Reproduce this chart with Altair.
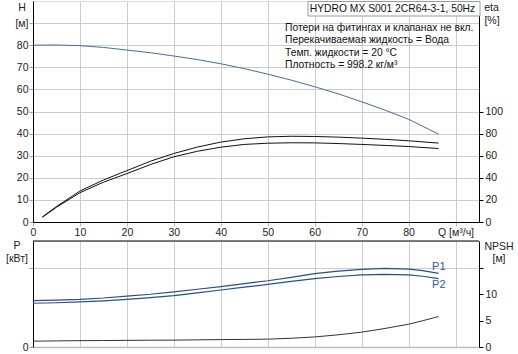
import altair as alt
import pandas as pd

# ---------------- data ----------------
q_h = [0, 5, 10, 15, 20, 25, 30, 35, 40, 45, 50, 55, 60, 65, 70, 75, 80, 86.4]
h_vals = [80, 80.1, 79.8, 79, 77.8, 76.6, 75.1, 73.5, 71.6, 69.4, 66.9, 64.2, 61.2, 58, 54.4, 50.6, 46.5, 39.7]

q_eta = [2, 5, 10, 15, 20, 25, 30, 35, 40, 45, 50, 55, 60, 65, 70, 75, 80, 86.4]
eta_1 = [4.6, 14, 28, 38, 46.5, 55, 62, 67.8, 72.3, 75.3, 77, 77.6, 77.4, 76.8, 75.9, 74.8, 73.5, 71.4]
eta_2 = [4.3, 13.3, 26.5, 36, 43.8, 52, 59, 64, 67.7, 70.2, 71.3, 71.7, 71.6, 71, 70.2, 69.3, 68.3, 66.5]

q_p = [0, 5, 10, 15, 20, 25, 30, 35, 40, 45, 50, 55, 60, 65, 70, 75, 80, 83, 86.4]
p_1 = [8.75, 8.85, 9.0, 9.25, 9.6, 9.95, 10.4, 10.9, 11.4, 11.95, 12.5, 13.15, 13.85, 14.3, 14.65, 14.85, 14.7, 14.4, 13.9]
p_2 = [8.25, 8.35, 8.5, 8.72, 9.0, 9.33, 9.7, 10.2, 10.75, 11.28, 11.8, 12.38, 12.9, 13.3, 13.6, 13.7, 13.6, 13.35, 12.9]
npsh = [1.1, 1.15, 1.2, 1.22, 1.25, 1.28, 1.3, 1.35, 1.4, 1.43, 1.48, 1.65, 1.9, 2.3, 2.8, 3.5, 4.3, 4.95, 5.75]

p_labels = ["P1", "P2"]
p_label_q = [85, 85]
p_label_v = [15.1, 11.7]

title_text = "HYDRO MX S001 2CR64-3-1, 50Hz"
info_lines = [
    "Потери на фитингах и клапанах не вкл.",
    "Перекачиваемая жидкость = Вода",
    "Темп. жидкости = 20 °C",
    "Плотность = 998.2 кг/м³",
]

# ---------------- layout / style ----------------
FONT = "Liberation Sans"
W = 446
H_TOP = 221
H_BOT = 106
XDOM = [0, 95]
GRID = "#cccccc"
LBL = "#222222"
FS = 10.5
H_COLOR = "#4a6a9c"
P_COLOR = "#2a4f82"
ETA_COLOR = "#111111"
NPSH_COLOR = "#333333"

df_h = pd.DataFrame({"Q": q_h, "H": h_vals})
df_eta = pd.DataFrame({
    "Q": q_eta + q_eta,
    "eta": eta_1 + eta_2,
    "curve": ["eta1"] * len(q_eta) + ["eta2"] * len(q_eta),
})
df_p = pd.DataFrame({
    "Q": q_p + q_p,
    "P": p_1 + p_2,
    "curve": ["P1"] * len(q_p) + ["P2"] * len(q_p),
})
df_npsh = pd.DataFrame({"Q": q_p, "NPSH": npsh})
df_plab = pd.DataFrame({"Q": p_label_q, "P": p_label_v, "t": p_labels})

one = alt.InlineData(values=[{}])


def txt(s, x, y, align="center", size=FS, color=LBL, baseline="middle"):
    return alt.Chart(one).mark_text(
        text=s, align=align, baseline=baseline, font=FONT, fontSize=size, color=color
    ).encode(x=alt.value(x), y=alt.value(y))


lab_common = dict(labelFont=FONT, labelFontSize=FS, labelColor=LBL, title=None,
                  labelOverlap=False, labelFlush=False)

# ---------------- top panel ----------------
x_top = alt.X(
    "Q:Q",
    scale=alt.Scale(domain=XDOM, nice=False, zero=False),
    axis=alt.Axis(
        values=list(range(0, 100, 10)),
        labelExpr="datum.value == 90 ? 'Q [м³/ч]' : datum.label",
        grid=True, gridColor=GRID, gridWidth=1,
        domainColor="#000000", domainWidth=1,
        tickColor="#b0b0b0", tickSize=4, labelPadding=1,
        **lab_common,
    ),
)

h_line = alt.Chart(df_h).mark_line(color=H_COLOR, strokeWidth=1).encode(
    x=x_top,
    y=alt.Y(
        "H:Q",
        scale=alt.Scale(domain=[0, 100], nice=False, zero=False),
        axis=alt.Axis(
            orient="left", values=list(range(0, 100, 10)),
            labelExpr="datum.value == 90 ? '[м]' : datum.label",
            grid=True, gridColor=GRID, gridWidth=1,
            domainColor="#000000", tickColor="#a0a0a0", tickSize=4, labelPadding=1,
            **lab_common,
        ),
    ),
)

eta_lines = alt.Chart(df_eta).mark_line(color=ETA_COLOR, strokeWidth=1).encode(
    x=alt.X("Q:Q", scale=alt.Scale(domain=XDOM, nice=False, zero=False)),
    y=alt.Y(
        "eta:Q",
        scale=alt.Scale(domain=[0, 200], nice=False, zero=False),
        axis=alt.Axis(
            orient="right", values=list(range(0, 120, 20)), grid=False,
            domainColor="#000000", tickColor="#000000", tickSize=4, labelPadding=2,
            **lab_common,
        ),
    ),
    detail="curve:N",
)

spacer = alt.Chart(one).mark_rule(strokeOpacity=0, strokeWidth=0.01).encode(
    x=alt.value(-32), x2=alt.value(W + 38), y=alt.value(0.5)
)

title_box = alt.Chart(one).mark_rect(fill="white", stroke="#9a9a9a", strokeWidth=1).encode(
    x=alt.value(275), x2=alt.value(447), y=alt.value(0.5), y2=alt.value(15)
)

top_layers = [
    h_line, eta_lines, spacer, title_box,
    txt(title_text, 359.5, 8, size=10.3, color="#111111"),
    txt("H", -11, 7),
    txt("eta", 458.5, 7), txt("[%]", 459, 20),
]
for i, line in enumerate(info_lines):
    top_layers.append(txt(line, 252, 27 + 12.3 * i, align="left", size=10.3, color="#111111"))

top = alt.layer(*top_layers).resolve_scale(y="independent").properties(width=W, height=H_TOP)

# ---------------- bottom panel ----------------
x_bot = alt.X(
    "Q:Q",
    scale=alt.Scale(domain=XDOM, nice=False, zero=False),
    axis=alt.Axis(
        values=list(range(0, 100, 10)), labels=False, ticks=False,
        grid=True, gridColor=GRID, gridWidth=1,
        domainColor="#bdbdbd", domainWidth=1.5, title=None,
    ),
)

p_lines = alt.Chart(df_p).mark_line(color=P_COLOR, strokeWidth=1.2).encode(
    x=x_bot,
    y=alt.Y(
        "P:Q",
        scale=alt.Scale(domain=[0, 20], nice=False, zero=False),
        axis=alt.Axis(
            orient="left", values=[0, 5, 10, 15],
            labelExpr="datum.value <= 10 ? datum.label : ''",
            grid=True, gridColor=GRID, gridWidth=1,
            domainColor="#000000", tickColor="#a0a0a0", tickSize=4, labelPadding=1,
            **lab_common,
        ),
    ),
    detail="curve:N",
)

p_text = alt.Chart(df_plab).mark_text(
    align="left", baseline="middle", font=FONT, fontSize=11, color="#2b5a9a"
).encode(
    x=alt.X("Q:Q", scale=alt.Scale(domain=XDOM, nice=False, zero=False)),
    y=alt.Y("P:Q", scale=alt.Scale(domain=[0, 20], nice=False, zero=False)),
    text="t:N",
)

npsh_line = alt.Chart(df_npsh).mark_line(color=NPSH_COLOR, strokeWidth=1).encode(
    x=alt.X("Q:Q", scale=alt.Scale(domain=XDOM, nice=False, zero=False)),
    y=alt.Y(
        "NPSH:Q",
        scale=alt.Scale(domain=[0, 20], nice=False, zero=False),
        axis=alt.Axis(
            orient="right", values=[0, 5, 10, 15],
            labelExpr="datum.value <= 10 ? datum.label : ''",
            grid=False, domainColor="#000000", tickColor="#000000", tickSize=4, labelPadding=2,
            **lab_common,
        ),
    ),
)

top_border = alt.Chart(one).mark_rule(color="#000000", strokeWidth=1).encode(
    x=alt.value(0), x2=alt.value(W), y=alt.value(0)
)

bottom = alt.layer(
    alt.layer(p_lines, p_text), npsh_line, top_border,
    txt("P", -16, 5), txt("[кВт]", -16, 18),
    txt("NPSH", 466, 6), txt("[м]", 466, 18),
).resolve_scale(y="independent").properties(width=W, height=H_BOT)

chart = alt.vconcat(top, bottom, spacing=19, bounds="flush").properties(
    padding=0
).configure_view(stroke=None).configure(background="white")

chart.save("out.html", embed_options={"renderer": "svg", "actions": False})
